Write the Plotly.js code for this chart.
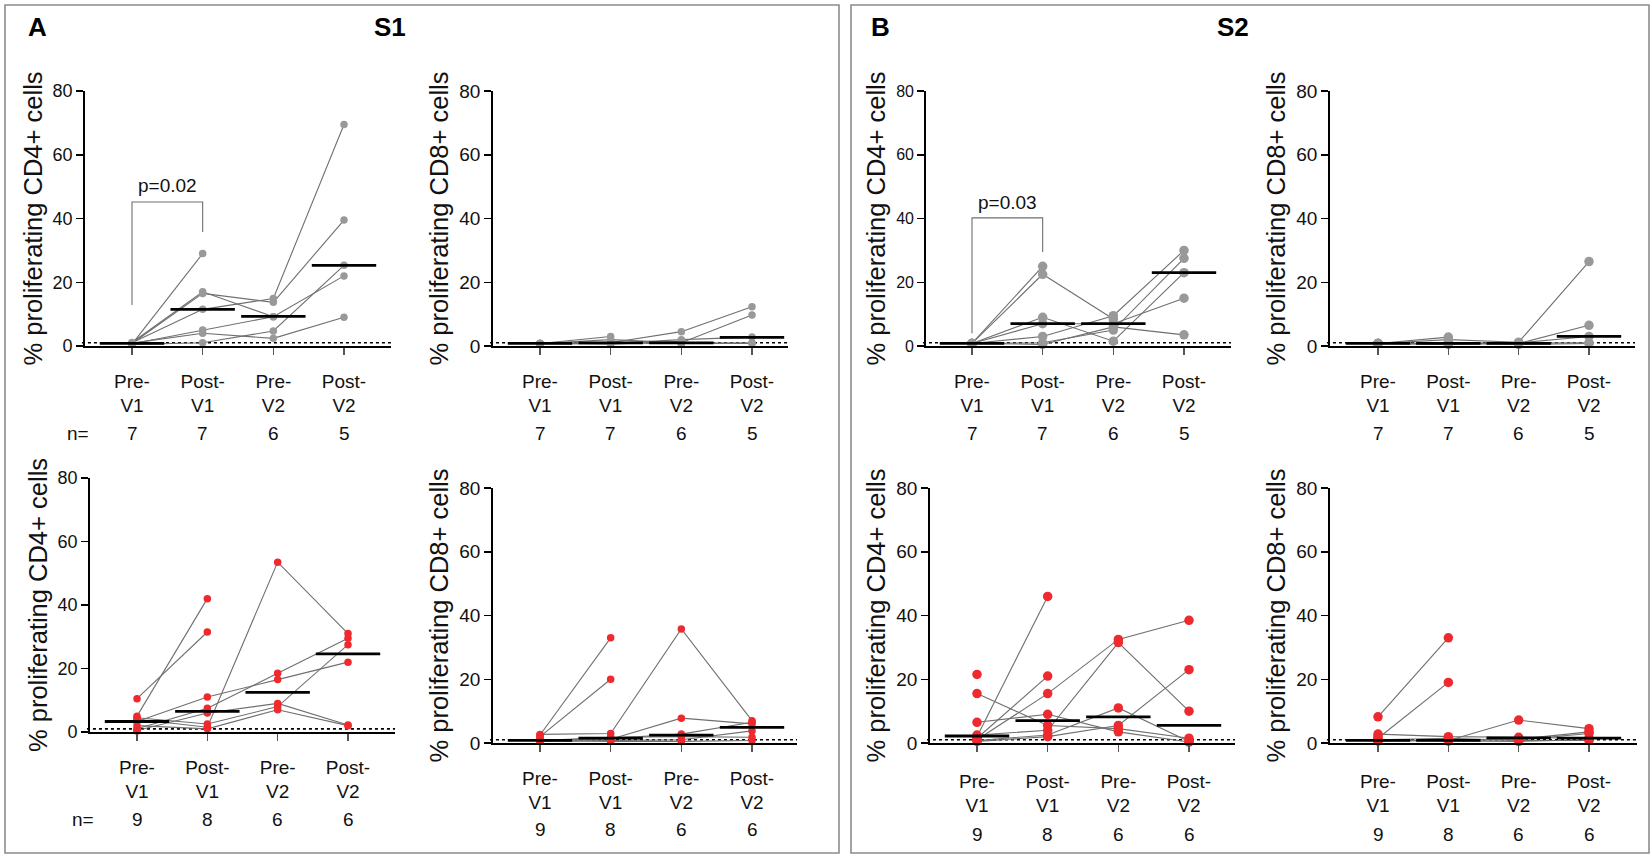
<!DOCTYPE html>
<html>
<head>
<meta charset="utf-8">
<script src="https://cdn.plot.ly/plotly-3.0.1.min.js"></script>
<style>html,body{margin:0;padding:0;background:#fff;}#chart{width:1652px;height:856px;}</style>
</head>
<body>
<div id="chart"></div>
<script>
// ---------------- DATA ----------------
const categories = ['Pre-V1', 'Post-V1', 'Pre-V2', 'Post-V2'];
const tickText = ['Pre-<br>V1', 'Post-<br>V1', 'Pre-<br>V2', 'Post-<br>V2'];
const yTicks = [0, 20, 40, 60, 80];
const detectionLimit = 1;

const nTop = [7, 7, 6, 5];
const nBottom = [9, 8, 6, 6];

// S1 (panel A) — top row, grey, CD4
const s1TopCD4 = [
  [0.6, 29, null, null],
  [0.8, 16.5, 13.7, 39.5],
  [1.0, 11.5, 14.9, 69.5],
  [0.7, 5, 9.2, 22],
  [0.9, 4, 2.4, 9],
  [0.5, 1, 4.7, 25.3],
  [1.1, 17, 9.2, null]
];
const s1TopCD4Median = [0.8, 11.5, 9.3, 25.3];

// S1 — top row, grey, CD8
const s1TopCD8 = [
  [0.8, 3, null, null],
  [0.8, 1, 4.5, 12.3],
  [0.8, 2, 1, 9.7],
  [0.8, 0.8, 2, 2.8],
  [0.8, 0.8, 0.8, 1],
  [0.8, 1.2, 0.8, 0.8],
  [0.8, 0.6, 1.5, null]
];
const s1TopCD8Median = [0.8, 1, 1, 2.7];

// S1 — bottom row, red, CD4
const s1BotCD4 = [
  [10.5, 31.5, null, null],
  [5, 42, null, null],
  [1, 7.5, 18.5, 29.5],
  [3.3, 11, 16.5, 22],
  [0.5, 6, 9, 2.2],
  [4, 1.5, 53.5, 31],
  [4.5, 2.5, 8, 27.5],
  [2, 1, 7, 2],
  [0.3, null, null, null]
];
const s1BotCD4Median = [3.3, 6.5, 12.5, 24.6];

// S1 — bottom row, red, CD8
const s1BotCD8 = [
  [2.5, 33, null, null],
  [2, 20, null, null],
  [2.7, 3, 35.8, 7],
  [1, 1.2, 7.8, 6],
  [0.8, 1.5, 2.8, 6.5],
  [0.8, 1.8, 2, 1.8],
  [0.5, 0.8, 1, 3.8],
  [0.8, 0.5, 0.5, 0.8],
  [1.5, null, null, null]
];
const s1BotCD8Median = [0.8, 1.5, 2.5, 4.9];

// S2 (panel B) — top row, grey, CD4
const s2TopCD4 = [
  [0.8, 25, null, null],
  [0.8, 22.5, 8.5, null],
  [0.8, 9, 1.5, 23],
  [0.8, 7, 7, 15],
  [0.8, 3, 9.5, 30],
  [0.8, 1, 5, 27.5],
  [0.8, 0.5, 6, 3.5]
];
const s2TopCD4Median = [0.8, 7, 7, 23];

// S2 — top row, grey, CD8
const s2TopCD8 = [
  [0.8, 2.8, null, null],
  [0.8, 2, 1.2, 26.5],
  [0.8, 1, 0.8, 6.5],
  [0.8, 0.5, 1, 3],
  [0.8, 0.8, 0.8, 1],
  [0.8, 0.8, 0.5, 0.8],
  [0.8, 0.6, 1, null]
];
const s2TopCD8Median = [0.8, 0.8, 0.8, 3];

// S2 — bottom row, red, CD4
const s2BotCD4 = [
  [21.5, null, null, null],
  [15.5, 5.5, 4.5, 1.5],
  [6.5, 9, 3.5, 0.3],
  [2, 46, null, null],
  [1.5, 21, null, null],
  [1, 15.5, 32.5, 38.5],
  [2.5, 4, 31.5, 10],
  [0.8, 2.5, 11, 0.5],
  [0.5, 2, 5.5, 23]
];
const s2BotCD4Median = [2.2, 7, 8.2, 5.5];

// S2 — bottom row, red, CD8
const s2BotCD8 = [
  [8.2, 33, null, null],
  [1.5, 19, null, null],
  [2.8, 2, 1.8, 1.5],
  [0.8, 0.8, 7.2, 4.5],
  [0.8, 1, 1, 3],
  [0.6, 0.8, 1.2, 3.5],
  [1, 1.5, 0.8, 0.8],
  [0.8, 0.6, 0.5, 1],
  [2, null, null, null]
];
const s2BotCD8Median = [0.8, 0.8, 1.6, 1.5];

// significance brackets
const bracketS1 = { label: 'p=0.02', from: 0, to: 1, top: 45.2, leftEnd: 12.9, rightEnd: 35.8, labelY: 50.5 };
const bracketS2 = { label: 'p=0.03', from: 0, to: 1, top: 40.2, leftEnd: 4, rightEnd: 29.5, labelY: 45 };

// ---------------- LAYOUT / STYLE ----------------
const W = 1652, H = 856;
const GREY = '#999999', RED = '#ee2a2e', LINK = '#6f6f6f';
const FONT = 'Liberation Sans, Arial, Helvetica, sans-serif';
const titleCD4 = '% proliferating CD4+ cells';
const titleCD8 = '% proliferating CD8+ cells';

const panels = [
  { data: s1TopCD4, med: s1TopCD4Median, color: GREY, ms: 7.5, title: titleCD4, xl: 85,  xr: 391,  c0: 132,  c3: 344,  yt: 91,  yb: 346, n: nTop,    nLabel: true,  nRow: 433, stand: 10, bracket: bracketS1, ytf: 18 },
  { data: s1TopCD8, med: s1TopCD8Median, color: GREY, ms: 7.5, title: titleCD8, xl: 493, xr: 788,  c0: 540,  c3: 752,  yt: 91,  yb: 346, n: nTop,    nLabel: false, nRow: 433, stand: 10, ytf: 19 },
  { data: s1BotCD4, med: s1BotCD4Median, color: RED,  ms: 7.5, title: titleCD4, xl: 90,  xr: 395,  c0: 137,  c3: 348,  yt: 478, yb: 732, n: nBottom, nLabel: true,  nRow: 819, stand: 10, ytf: 18 },
  { data: s1BotCD8, med: s1BotCD8Median, color: RED,  ms: 7.5, title: titleCD8, xl: 493, xr: 797,  c0: 540,  c3: 752,  yt: 488, yb: 743, n: nBottom, nLabel: false, nRow: 829, stand: 10, ytf: 19 },
  { data: s2TopCD4, med: s2TopCD4Median, color: GREY, ms: 9.5, title: titleCD4, xl: 926, xr: 1231, c0: 972,  c3: 1184, yt: 91,  yb: 346, n: nTop,    nLabel: false, nRow: 433, stand: 10, bracket: bracketS2, ytf: 16 },
  { data: s2TopCD8, med: s2TopCD8Median, color: GREY, ms: 9.5, title: titleCD8, xl: 1330, xr: 1635, c0: 1378, c3: 1589, yt: 91,  yb: 346, n: nTop,    nLabel: false, nRow: 433, stand: 10, ytf: 19 },
  { data: s2BotCD4, med: s2BotCD4Median, color: RED,  ms: 9.5, title: titleCD4, xl: 930, xr: 1235, c0: 977,  c3: 1189, yt: 488, yb: 743, n: nBottom, nLabel: false, nRow: 834, stand: 13, ytf: 19 },
  { data: s2BotCD8, med: s2BotCD8Median, color: RED,  ms: 9.5, title: titleCD8, xl: 1330, xr: 1637, c0: 1378, c3: 1589, yt: 488, yb: 743, n: nBottom, nLabel: false, nRow: 834, stand: 13, ytf: 19 }
];

const xIdx = categories.map((c, i) => i);
const traces = [];
const layout = {
  width: W, height: H,
  margin: { l: 0, r: 0, t: 0, b: 0 },
  paper_bgcolor: '#ffffff', plot_bgcolor: 'rgba(0,0,0,0)',
  showlegend: false,
  font: { family: FONT, color: '#111111' },
  shapes: [], annotations: []
};

panels.forEach((p, i) => {
  const k = i + 1;
  const xa = k === 1 ? 'x' : 'x' + k;
  const ya = k === 1 ? 'y' : 'y' + k;
  const sp = (p.c3 - p.c0) / 3;
  const r0 = -(p.c0 - p.xl) / sp;
  const r1 = 3 + (p.xr - p.c3) / sp;

  layout[k === 1 ? 'xaxis' : 'xaxis' + k] = {
    domain: [p.xl / W, p.xr / W], anchor: ya, range: [r0, r1],
    tickmode: 'array', tickvals: xIdx, ticktext: tickText,
    showline: true, linecolor: '#000', linewidth: 1.8,
    ticks: 'outside', ticklen: 7, tickwidth: 1.2, tickcolor: '#555',
    ticklabelstandoff: p.stand,
    showgrid: false, zeroline: false, fixedrange: true,
    tickfont: { size: 19, family: FONT, color: '#111' }
  };
  layout[k === 1 ? 'yaxis' : 'yaxis' + k] = {
    domain: [1 - p.yb / H, 1 - p.yt / H], anchor: xa, range: [0, 80],
    tickmode: 'array', tickvals: yTicks,
    showline: true, linecolor: '#000', linewidth: 1.8,
    ticks: 'outside', ticklen: 7, tickwidth: 1.5, tickcolor: '#000',
    showgrid: false, zeroline: false, fixedrange: true,
    tickfont: { size: p.ytf, family: FONT, color: '#111' },
    title: { text: p.title, font: { size: 25.5, family: FONT, color: '#111' }, standoff: 3 }
  };

  // detection limit (dotted)
  layout.shapes.push({
    type: 'line', xref: xa + ' domain', yref: ya, x0: -0.01, x1: 1, y0: detectionLimit, y1: detectionLimit,
    line: { color: '#000', width: 1.6, dash: 'dot' }, layer: 'below'
  });

  // paired lines
  p.data.forEach(subj => {
    traces.push({
      x: xIdx, y: subj, xaxis: xa, yaxis: ya, mode: 'lines',
      line: { color: LINK, width: 1.1 }, hoverinfo: 'skip', cliponaxis: false, connectgaps: false
    });
  });
  // points
  const px = [], py = [];
  p.data.forEach(subj => subj.forEach((v, j) => { if (v !== null) { px.push(j); py.push(v); } }));
  traces.push({
    x: px, y: py, xaxis: xa, yaxis: ya, mode: 'markers',
    marker: { color: p.color, size: p.ms, line: { width: 0 } }, cliponaxis: false, hoverinfo: 'y'
  });
  // medians
  traces.push({
    x: xIdx, y: p.med, xaxis: xa, yaxis: ya, mode: 'markers',
    marker: { symbol: 'line-ew', size: 46, color: '#000', line: { width: 2.8, color: '#000' } },
    cliponaxis: false, hoverinfo: 'y'
  });

  // n row
  p.n.forEach((v, j) => {
    layout.annotations.push({
      xref: xa, yref: 'paper', x: j, y: 1 - p.nRow / H, text: String(v), showarrow: false,
      xanchor: 'center', yanchor: 'middle', font: { size: 19, family: FONT, color: '#111' }
    });
  });
  if (p.nLabel) {
    layout.annotations.push({
      xref: 'paper', yref: 'paper', x: (p.xl - 7) / W, y: 1 - p.nRow / H, text: 'n=', showarrow: false,
      xanchor: 'center', yanchor: 'middle', font: { size: 19, family: FONT, color: '#111' }
    });
  }

  // significance bracket
  if (p.bracket) {
    const b = p.bracket;
    layout.shapes.push({
      type: 'path', xref: xa, yref: ya,
      path: `M ${b.from},${b.leftEnd} L ${b.from},${b.top} L ${b.to},${b.top} L ${b.to},${b.rightEnd}`,
      line: { color: '#6f6f6f', width: 1.1 }
    });
    layout.annotations.push({
      xref: xa, yref: ya, x: (b.from + b.to) / 2, y: b.labelY, text: b.label, showarrow: false,
      xanchor: 'center', yanchor: 'middle', font: { size: 19, family: FONT, color: '#111' }
    });
  }
});

// outer frames
layout.shapes.push({ type: 'rect', xref: 'paper', yref: 'paper', x0: 5 / W, x1: 839 / W, y0: 1 - 853 / H, y1: 1 - 5 / H, line: { color: '#8c8c8c', width: 1.6 } });
layout.shapes.push({ type: 'rect', xref: 'paper', yref: 'paper', x0: 851 / W, x1: 1649 / W, y0: 1 - 853 / H, y1: 1 - 5 / H, line: { color: '#8c8c8c', width: 1.6 } });

// panel letters and headings
[['A', 37], ['S1', 390], ['B', 881], ['S2', 1233]].forEach(([t, x]) => {
  layout.annotations.push({
    xref: 'paper', yref: 'paper', x: x / W, y: 1 - 27 / H, text: '<b>' + t + '</b>', showarrow: false,
    xanchor: 'center', yanchor: 'middle', font: { size: 26, family: FONT, color: '#000' }
  });
});

Plotly.newPlot('chart', traces, layout, { displayModeBar: false, staticPlot: true });
</script>
</body>
</html>
